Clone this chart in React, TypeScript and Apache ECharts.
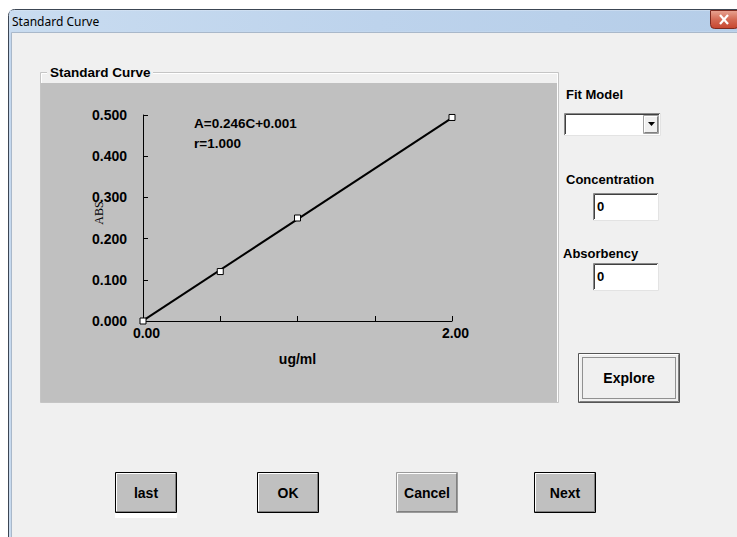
import React, { useEffect, useRef } from "react";
import * as echarts from "echarts";

// ---- data ----
const concentration = [0, 0.5, 1.0, 2.0];
const absorbance = [0.0, 0.12, 0.25, 0.494];
const fitConcentration = [0, 2];
const fitAbsorbance = [0.001, 0.493];
const equationText = "A=0.246C+0.001";
const correlationText = "r=1.000";
const xLabelValues = [0, 2];
const xMin = 0;
const xMax = 2;
const xInterval = 0.5;
const yMin = 0;
const yMax = 0.5;
const yInterval = 0.1;
const buttonLabels = ["last", "OK", "Cancel", "Next"];

const BOLD = "'Liberation Sans', Arial, sans-serif";

function raisedButton(x: number, y: number, w: number, h: number, label: string, outer: string, fill: string) {
  return {
    type: "group",
    z: 1,
    children: [
      { type: "rect", shape: { x: x + 0.5, y: y + 0.5, width: w - 1, height: h - 1 }, style: { fill, stroke: outer, lineWidth: 1 } },
      { type: "polyline", shape: { points: [[x + 1.5, y + h - 2], [x + 1.5, y + 1.5], [x + w - 2, y + 1.5]] }, style: { stroke: "#ffffff", lineWidth: 1, fill: null } },
      { type: "polyline", shape: { points: [[x + 1.5, y + h - 1.5], [x + w - 1.5, y + h - 1.5], [x + w - 1.5, y + 1.5]] }, style: { stroke: "#808080", lineWidth: 1, fill: null } },
      { type: "text", x: x + w / 2, y: y + h / 2, style: { text: label, font: `bold 14px ${BOLD}`, fill: "#000", textAlign: "center", textVerticalAlign: "middle" } },
    ],
  };
}

function sunkenBox(x: number, y: number, w: number, h: number) {
  return {
    type: "group",
    z: 1,
    children: [
      { type: "rect", shape: { x: x + 0.5, y: y + 0.5, width: w - 1, height: h - 1 }, style: { fill: "#ffffff", stroke: "#e3e3e3", lineWidth: 1 } },
      { type: "polyline", shape: { points: [[x + 0.5, y + h - 1], [x + 0.5, y + 0.5], [x + w - 1, y + 0.5]] }, style: { stroke: "#8a8a8a", lineWidth: 1, fill: null } },
      { type: "polyline", shape: { points: [[x + 1.5, y + h - 2], [x + 1.5, y + 1.5], [x + w - 2, y + 1.5]] }, style: { stroke: "#404040", lineWidth: 1, fill: null } },
    ],
  };
}

export default function App() {
  const ref = useRef<HTMLDivElement>(null);

  useEffect(() => {
    if (!ref.current) return;
    const chart = echarts.init(ref.current, undefined, { renderer: "svg" });

    const btnX = [115, 257, 396, 534];
    const graphics: any[] = [
      { type: "rect", z: 0, shape: { x: 0, y: 0, width: 737, height: 537 }, style: { fill: "#ffffff" } },
      {
        type: "rect", z: 0,
        shape: { x: 8.5, y: 9.5, width: 740, height: 540, r: [6, 6, 0, 0] },
        style: {
          fill: { type: "linear", x: 0, y: 0, x2: 0, y2: 1, colorStops: [{ offset: 0, color: "#dbe7f5" }, { offset: 0.05, color: "#c3d7ee" }, { offset: 1, color: "#c8daee" }] },
          stroke: "#3c4654", lineWidth: 1,
        },
      },
      {
        type: "rect", z: 0,
        shape: { x: 9.5, y: 10.5, width: 738, height: 21 },
        style: {
          fill: { type: "linear", x: 0, y: 0, x2: 1, y2: 0, colorStops: [{ offset: 0, color: "#c9dcf0" }, { offset: 0.5, color: "#bdd3ec" }, { offset: 1, color: "#b5cde8" }] },
        },
      },
      { type: "text", z: 1, x: 12, y: 21, style: { text: "Standard Curve", font: "12px 'Noto Sans', 'Open Sans', sans-serif", fill: "#000", textVerticalAlign: "middle" } },
      {
        type: "rect", z: 1,
        shape: { x: 710.5, y: 10.5, width: 28, height: 18, r: [0, 0, 4, 4] },
        style: {
          fill: { type: "linear", x: 0, y: 0, x2: 0, y2: 1, colorStops: [{ offset: 0, color: "#e8a493" }, { offset: 0.5, color: "#d46a55" }, { offset: 1, color: "#c7452f" }] },
          stroke: "#7d2a20", lineWidth: 1,
        },
      },
      { type: "line", z: 2, shape: { x1: 720, y1: 15, x2: 728, y2: 24 }, style: { stroke: "#ffffff", lineWidth: 2.2 } },
      { type: "line", z: 2, shape: { x1: 728, y1: 15, x2: 720, y2: 24 }, style: { stroke: "#ffffff", lineWidth: 2.2 } },
      { type: "rect", z: 0, shape: { x: 11.5, y: 32.5, width: 730, height: 510 }, style: { fill: "#f0f0f0", stroke: "#a9b8ca", lineWidth: 1 } },
      { type: "rect", z: 0, shape: { x: 40.5, y: 72.5, width: 518, height: 330 }, style: { fill: null, stroke: "#c5c5c5", lineWidth: 1 } },
      { type: "rect", z: 0, shape: { x: 41.5, y: 73.5, width: 516, height: 328 }, style: { fill: null, stroke: "#ffffff", lineWidth: 1 } },
      { type: "rect", z: 0, shape: { x: 41, y: 83, width: 516, height: 319 }, style: { fill: "#c0c0c0" } },
      { type: "rect", z: 1, shape: { x: 47, y: 65, width: 106, height: 14 }, style: { fill: "#f0f0f0" } },
      { type: "text", z: 2, x: 50, y: 72, style: { text: "Standard Curve", font: `bold 13.5px ${BOLD}`, fill: "#000", textVerticalAlign: "middle" } },
      { type: "text", z: 20, x: 194, y: 123, style: { text: equationText, font: `bold 13.5px ${BOLD}`, fill: "#000", textVerticalAlign: "middle" } },
      { type: "text", z: 20, x: 194, y: 143, style: { text: correlationText, font: `bold 13.5px ${BOLD}`, fill: "#000", textVerticalAlign: "middle" } },
      { type: "text", z: 20, x: 99, y: 213, rotation: Math.PI / 2, style: { text: "ABS", font: "12px 'Liberation Serif', 'DejaVu Serif', serif", fill: "#000", textAlign: "center", textVerticalAlign: "middle" } },
      { type: "text", z: 2, x: 566, y: 94, style: { text: "Fit Model", font: `bold 13px ${BOLD}`, fill: "#000", textVerticalAlign: "middle" } },
      sunkenBox(564, 113, 97, 23),
      raisedButton(643, 115, 16, 19, "", "#a0a0a0", "#f0f0f0"),
      { type: "polygon", z: 3, shape: { points: [[648, 122], [655, 122], [651.5, 126]] }, style: { fill: "#000" } },
      { type: "text", z: 2, x: 566, y: 179, style: { text: "Concentration", font: `bold 13px ${BOLD}`, fill: "#000", textVerticalAlign: "middle" } },
      sunkenBox(593, 193, 66, 28),
      { type: "text", z: 3, x: 597, y: 206, style: { text: "0", font: `bold 13px ${BOLD}`, fill: "#000", textVerticalAlign: "middle" } },
      { type: "text", z: 2, x: 563, y: 253, style: { text: "Absorbency", font: `bold 13px ${BOLD}`, fill: "#000", textVerticalAlign: "middle" } },
      sunkenBox(593, 263, 66, 28),
      { type: "text", z: 3, x: 597, y: 276, style: { text: "0", font: `bold 13px ${BOLD}`, fill: "#000", textVerticalAlign: "middle" } },
      raisedButton(578, 353, 102, 50, "Explore", "#555555", "#f0f0f0"),
      { type: "rect", z: 3, shape: { x: 582.5, y: 357.5, width: 93, height: 41 }, style: { fill: null, stroke: "#333", lineWidth: 1, lineDash: [1, 1] } },
      { type: "rect", z: 0, shape: { x: 115, y: 512, width: 62, height: 6 }, style: { fill: "#ffffff" } },
    ];
    buttonLabels.forEach((lbl, i) => {
      graphics.push(raisedButton(btnX[i], 472, 62, 41, lbl, lbl === "Cancel" ? "#9a9a9a" : "#000000", "#c0c0c0"));
    });

    const option: any = {
      animation: false,
      backgroundColor: "#ffffff",
      graphic: { elements: graphics },
      grid: { left: 143, top: 115, right: 285, bottom: 216, containLabel: false },
      xAxis: {
        type: "value",
        min: xMin,
        max: xMax,
        interval: xInterval,
        z: 10,
        name: "ug/ml",
        nameLocation: "middle",
        nameGap: 31,
        nameTextStyle: { fontFamily: BOLD, fontWeight: "bold", fontSize: 14, color: "#000" },
        axisLine: { show: true, lineStyle: { color: "#000", width: 1 } },
        axisTick: { show: true, inside: true, length: 5, lineStyle: { color: "#000" } },
        axisLabel: {
          margin: 5,
          padding: [0, 0, 0, 7],
          fontFamily: BOLD, fontWeight: "bold", fontSize: 14, color: "#000",
          formatter: (v: number) => (xLabelValues.includes(v) ? v.toFixed(2) : ""),
        },
        splitLine: { show: false },
      },
      yAxis: {
        type: "value",
        min: yMin,
        max: yMax,
        interval: yInterval,
        z: 10,
        axisLine: { show: true, lineStyle: { color: "#000", width: 1 } },
        axisTick: { show: true, inside: true, length: 5, lineStyle: { color: "#000" } },
        axisLabel: {
          margin: 16,
          padding: [0, 0, 4, 0],
          fontFamily: BOLD, fontWeight: "bold", fontSize: 14, color: "#000",
          formatter: (v: number) => v.toFixed(3),
        },
        splitLine: { show: false },
      },
      series: [
        {
          type: "line",
          z: 12,
          data: fitConcentration.map((c, i) => [c, fitAbsorbance[i]]),
          showSymbol: false,
          lineStyle: { color: "#000", width: 2 },
          silent: true,
        },
        {
          type: "scatter",
          z: 13,
          data: concentration.map((c, i) => [c, absorbance[i]]),
          symbol: "rect",
          symbolSize: 6,
          itemStyle: { color: "#ffffff", borderColor: "#000", borderWidth: 1, opacity: 1 },
        },
      ],
    };

    chart.setOption(option);
    return () => chart.dispose();
  }, []);

  return <div ref={ref} style={{ position: "fixed", left: 0, top: 0, width: 737, height: 537 }} />;
}
